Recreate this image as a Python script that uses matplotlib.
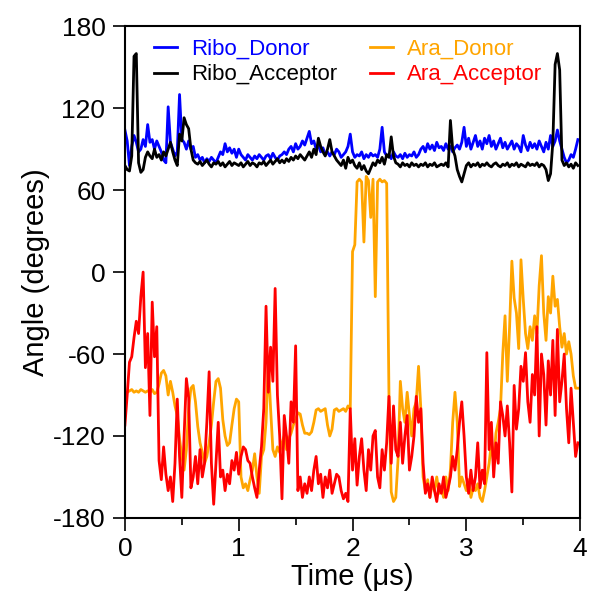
import numpy as np
import matplotlib
matplotlib.use("Agg")
from matplotlib import pyplot as plt

plt.rcParams["font.family"] = ["Liberation Sans", "DejaVu Sans"]
plt.rcParams["axes.unicode_minus"] = False

# sampling times (us), one frame every 0.02 us
time_us = np.linspace(0.0, 3.98, 200)

# dihedral angles (degrees), ten frames per row
ribo_donor = [
    104, 96, 78, 92, 100, 95, 88, 90, 97, 92,
    108, 95, 97, 90, 96, 92, 88, 82, 80, 121,
    95, 90, 85, 88, 130, 97, 95, 90, 96, 90,
    92, 84, 86, 82, 84, 80, 83, 81, 84, 82,
    80, 84, 88, 86, 94, 88, 91, 87, 90, 84,
    90, 86, 84, 82, 86, 84, 82, 85, 83, 86,
    84, 82, 85, 86, 83, 87, 84, 82, 85, 86,
    88, 86, 90, 92, 88, 94, 90, 92, 96, 93,
    98, 103, 94, 96, 90, 93, 88, 91, 86, 88,
    85, 88, 86, 90, 88, 84, 86, 88, 92, 101,
    88, 84, 86, 85, 88, 83, 86, 84, 87, 85,
    86, 84, 90, 106, 88, 85, 86, 83, 88, 85,
    84, 86, 83, 87, 84, 86, 85, 88, 84, 86,
    90, 92, 88, 94, 90, 93, 89, 95, 91, 92,
    89, 94, 90, 92, 88, 91, 93, 90, 95, 106,
    92, 98, 90, 95, 100, 92, 96, 90, 98, 94,
    100, 92, 96, 90, 94, 98, 91, 95, 90, 93,
    96, 90, 94, 92, 88, 100, 93, 89, 95, 91,
    94, 90, 96, 92, 88, 95, 90, 100, 92, 96,
    104, 96, 90, 84, 80, 82, 86, 84, 90, 97,
]

ribo_acceptor = [
    78, 75, 74, 85, 158, 160, 80, 73, 75, 84,
    88, 85, 83, 90, 84, 86, 82, 88, 85, 90,
    95, 88, 82, 78, 101, 96, 113, 108, 105, 90,
    82, 80, 79, 81, 78, 80, 82, 79, 77, 80,
    79, 81, 78, 80, 77, 79, 81, 78, 80, 79,
    78, 80, 77, 79, 81, 78, 80, 79, 77, 80,
    79, 81, 78, 80, 82, 79, 81, 83, 80, 82,
    80, 83, 81, 84, 82, 85, 83, 86, 84, 82,
    85, 88, 84, 90, 86, 98, 92, 88, 85, 90,
    97, 88, 85, 82, 80, 78, 82, 76, 84, 80,
    82, 78, 76, 80, 75, 78, 74, 72, 76, 80,
    78, 82, 80, 84, 79, 86, 84, 99, 85, 80,
    79, 77, 80, 78, 79, 77, 80, 78, 79, 77,
    79, 78, 80, 77, 79, 78, 80, 77, 78, 79,
    78, 80, 77, 111, 90, 85, 75, 70, 66, 72,
    78, 80, 77, 79, 78, 80, 77, 79, 78, 80,
    78, 77, 79, 80, 78, 77, 79, 78, 80, 77,
    79, 78, 80, 77, 79, 78, 77, 80, 78, 79,
    78, 80, 77, 79, 78, 75, 67, 72, 95, 152,
    160, 148, 82, 78, 80, 77, 79, 76, 80, 78,
]

ara_donor = [
    -90, -88, -87, -86, -88, -87, -88, -86, -87, -88,
    -87, -88, -86, -89, -88, -82, -74, -72, -76, -90,
    -80, -88, -98, -105, -122, -135, -145, -130, -100, -85,
    -83, -95, -113, -125, -132, -140, -135, -125, -112, -95,
    -80, -78, -85, -108, -120, -127, -125, -112, -100, -93,
    -95, -150, -158, -155, -160, -152, -145, -133, -150, -162,
    -135, -130, -110, -66, -100, -130, -135, -128, -132, -125,
    -120, -130, -122, -118, -112, -108, -103, -104, -112, -118,
    -118, -119, -117, -110, -101, -100, -102, -101, -100, -112,
    -120, -115, -101, -100, -102, -101, -100, -102, -98, -100,
    15, 20, 66, 68, 66, 22, 70, 67, 40, 68,
    -18, 66, 68, 66, 67, 65, -90, -161, -168, -165,
    -137, -80, -100, -110, -88, -105, -120, -100, -95, -69,
    -100, -150, -160, -152, -165, -155, -160, -150, -162, -158,
    -165, -150, -160, -145, -110, -88, -110, -157, -150, -155,
    -160, -152, -165, -158, -160, -155, -165, -168, -160, -150,
    -140, -125, -140, -118, -110, -100, -60, -32, -80, -40,
    8, -19, -30, -56, 9, -20, -45, -56, -40, -50,
    -32, -45, -10, 12, -30, -50, -18, -30, -3, -25,
    -20, -40, -55, -45, -60, -51, -60, -76, -85, -85,
]

ara_acceptor = [
    -112, -90, -66, -62, -48, -36, -45, -18, 0, -70,
    -45, -105, -22, -62, -40, -138, -152, -128, -148, -160,
    -150, -168, -140, -93, -135, -165, -120, -78, -92, -158,
    -150, -135, -155, -130, -150, -140, -110, -73, -140, -170,
    -140, -110, -150, -145, -160, -148, -155, -138, -145, -132,
    -148, -135, -128, -130, -138, -140, -150, -158, -165, -145,
    -128, -100, -25, -88, -55, -80, -12, -90, -120, -166,
    -105, -120, -140, -95, -110, -54, -160, -150, -165, -155,
    -162, -150, -160, -145, -135, -155, -148, -165, -150, -158,
    -145, -162, -155, -148, -150, -160, -166, -162, -168, -100,
    -145, -122, -156, -135, -122, -145, -160, -130, -145, -120,
    -116, -150, -158, -130, -145, -125, -91, -140, -98, -130,
    -135, -110, -140, -120, -105, -145, -135, -120, -91, -110,
    -100, -140, -162, -155, -165, -150, -160, -168, -155, -162,
    -150, -165, -158, -150, -135, -145, -130, -110, -95, -120,
    -150, -162, -145, -160, -150, -125, -158, -145, -155, -59,
    -130, -110, -150, -125, -140, -95, -105, -120, -98, -125,
    -161, -83, -115, -100, -69, -80, -59, -95, -110, -75,
    -90, -40, -120, -60, -75, -112, -65, -90, -50, -105,
    -42, -95, -80, -60, -100, -125, -85, -110, -135, -125,
]

series = [
    ("Ribo_Donor", ribo_donor, "#0000ff"),
    ("Ribo_Acceptor", ribo_acceptor, "#000000"),
    ("Ara_Donor", ara_donor, "#ffa500"),
    ("Ara_Acceptor", ara_acceptor, "#ff0000"),
]

fig = plt.figure(figsize=(5.92, 5.96), dpi=100)
ax = fig.add_axes([0.211, 0.131, 0.769, 0.825])

for name, vals, col in series:
    ax.plot(time_us, vals, color=col, lw=2.0, label=name)

ax.set_xlim(0, 4)
ax.set_ylim(-180, 180)
ax.set_xticks([0, 1, 2, 3, 4])
ax.set_xticks([0.5, 1.5, 2.5, 3.5], minor=True)
ax.set_yticks(np.arange(-180, 181, 60))
ax.set_yticks([], minor=True)
ax.tick_params(axis="both", which="major", direction="out", length=9,
               width=1.2, labelsize=19, top=False, right=False)
ax.tick_params(axis="x", which="major", pad=5)
ax.tick_params(axis="y", which="major", pad=5)
ax.tick_params(axis="x", which="minor", direction="out", length=5, width=1.2)
for sp in ax.spines.values():
    sp.set_linewidth(1.5)

ax.set_xlabel("Time (\u03bcs)", fontsize=21, labelpad=1)
ax.set_ylabel("Angle (degrees)", fontsize=21, labelpad=2)

# legend order: column 1 = Ribo, column 2 = Ara
leg = ax.legend(ncol=2, frameon=False, loc="upper left",
                bbox_to_anchor=(0.02, 1.015), fontsize=16,
                handlelength=1.05, handletextpad=0.6,
                columnspacing=1.5, labelspacing=0.2)
for txt, (_, _, col) in zip(leg.get_texts(), series):
    txt.set_color(col)

fig.savefig("out.png", dpi=100)
